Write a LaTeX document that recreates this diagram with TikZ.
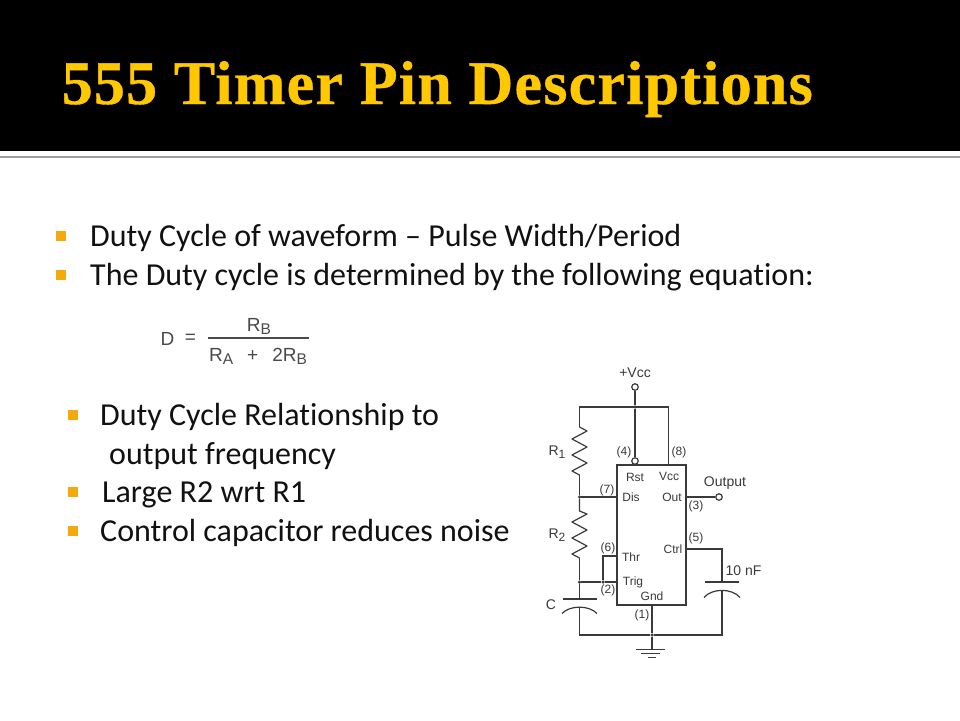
\documentclass[tikz,border=0pt]{standalone}
\usepackage{fontspec}
\setmainfont[RawFeature={-liga;-clig;-dlig}]{Carlito}
\newfontfamily\titlefont[LetterSpace=2,BoldFeatures={FakeBold=0.6}]{Liberation Serif}
\newfontfamily\circfont{Liberation Sans}
\usetikzlibrary{calc}
\definecolor{bulletc}{HTML}{F4A90C}
\definecolor{titlec}{HTML}{FFC800}
\definecolor{wirec}{HTML}{3A3A3A}
\definecolor{eqc}{HTML}{4A4A4A}
\definecolor{textc}{HTML}{111111}
\newcommand{\rsub}[1]{R\raisebox{-2.5pt}{\fontsize{12}{12}\selectfont #1}}
\newcommand{\rbig}[1]{R\raisebox{-3.5pt}{\fontsize{15.5}{15.5}\selectfont #1}}
\tikzset{
  bodytext/.style={anchor=base west,inner sep=0,text=textc,font=\fontsize{32}{32}\selectfont},
  bulletbox/.style={fill=bulletc,draw=none,minimum size=10pt,inner sep=0},
  wire/.style={draw=wirec,line width=1.2pt},
  lbl/.style={inner sep=0,text=wirec,font=\circfont\fontsize{12}{12}\selectfont},
  lblb/.style={inner sep=0,text=wirec,font=\circfont\fontsize{14}{14}\selectfont},
  term/.style={circle,draw=wirec,fill=white,line width=1.2pt,minimum size=6.5pt,inner sep=0},
  dotj/.style={circle,fill=wirec,minimum size=3.5pt,inner sep=0},
  eqtext/.style={inner sep=0,text=eqc,font=\circfont\fontsize{19}{19}\selectfont},
}
\begin{document}
\begin{tikzpicture}[x=1pt,y=-1pt]
\useasboundingbox (0,0) rectangle (960,720);
\fill[white] (0,0) rectangle (960,720);
\fill[black] (0,0) rectangle (960,151);
\fill[gray!75] (0,155.5) rectangle (960,157.5);
% title
\node[anchor=base west,inner sep=0,text=titlec,font=\titlefont\bfseries\fontsize{62}{62}\selectfont] (title) at (61.5,104) {555 Timer Pin Descriptions};
% bullets
\node[bulletbox] (b1) at (61,236) {};
\node[bulletbox] (b2) at (61,275) {};
\node[bulletbox] (b3) at (73,415) {};
\node[bulletbox] (b4) at (73,492) {};
\node[bulletbox] (b5) at (73,531) {};
\node[bodytext] (t1) at (90,246) {Duty Cycle of waveform – Pulse Width/Period};
\node[bodytext] (t2) at (90,285) {The Duty cycle is determined by the following equation:};
\node[bodytext] (t3) at (100,425) {Duty Cycle Relationship to};
\node[bodytext] (t4) at (109,464) {output frequency};
\node[bodytext] (t5) at (102,502) {Large R2 wrt R1};
\node[bodytext] (t6) at (100,541) {Control capacitor reduces noise};
% equation
\node[eqtext] (eqd) at (167.5,338.5) {D};
\node[eqtext] (eqe) at (190.5,338.5) {=};
\node[eqtext,anchor=base] (eqn) at (259,331) {\rbig{B}};
\node[eqtext,anchor=base] (eqm) at (258,361) {\rbig{A}\hspace{14pt}+\hspace{14pt}2\rbig{B}};
\coordinate (fa) at (208,338);
\coordinate (fb) at (309,338);
\draw[draw=eqc,line width=2pt] (fa) -- (fb);
% circuit
\coordinate (tl) at (579.5,407);
\coordinate (tm) at (635,407);
\coordinate (tr) at (668.5,407);
\node[term] (vcc) at (635,387) {};
\node[term] (rst) at (635,461) {};
\node[dotj] (jt) at (tm) {};
\node[lblb] (vcclab) at (635,373) {+Vcc};
\draw[wire] (vcc) -- (jt) -- (rst);
\draw[wire] (579.5,427) -- (tl) -- (tr) -- (668.5,465);
% box
\draw[wire] (617,465) rectangle (686,605);
% R1
\coordinate (r1a) at (579.5,427);
\coordinate (r1b) at (579.5,475);
\draw[wire,line join=round] (r1a) -- (587,431) -- (572,439) -- (587,447) -- (572,455) -- (587,463) -- (572,471) -- (r1b);
\node[dotj] (j7) at (579.5,497) {};
\draw[wire] (r1b) -- (j7) -- (617,497);
% R2
\coordinate (r2a) at (579.5,511);
\coordinate (r2b) at (579.5,558);
\draw[wire,line join=round] (j7) -- (r2a) -- (587,514) -- (572,522) -- (587,530) -- (572,538) -- (587,546) -- (572,554) -- (r2b);
\node[dotj] (j2) at (579.5,582) {};
\node[dotj] (j6) at (603,582) {};
\draw[wire] (r2b) -- (j2) -- (j6) -- (617,582);
\draw[wire] (j6) -- (603,556) -- (617,556);
% C
\coordinate (cp) at (579.5,599);
\draw[wire] (j2) -- (cp);
\draw[wire] (563,599) -- (597,599);
\draw[wire] (562,613.5) .. controls (570,605) and (589,605) .. (597,613.5);
\node[dotj] (jg) at (652,635) {};
\draw[wire] (579.5,606.5) -- (579.5,635) -- (jg) -- (722,635) -- (722,589.5);
\draw[wire] (652,605) -- (jg) -- (652,649.5);
% ground
\draw[wire] (636,649.5) -- (665,649.5);
\draw[wire] (641,653.5) -- (660,653.5);
\draw[wire] (648,657.5) -- (656,657.5);
% output
\node[term] (out) at (719,497) {};
\draw[wire] (686,497) -- (out);
% ctrl
\draw[wire] (686,549) -- (722,549) -- (722,582);
\draw[wire] (705,582) -- (739,582);
\draw[wire] (704,597.5) .. controls (712,588) and (732,588) .. (740,597.5);
% labels
\node[lblb] (lr1) at (557,452) {\rsub{1}};
\node[lblb] (lr2) at (557,535) {\rsub{2}};
\node[lblb] (lc) at (551,605) {C};
\node[lblb] (ln) at (743.5,571) {10 nF};
\node[lblb] (lo) at (725,483) {Output};
\node[lbl] (p4) at (624,452.5) {(4)};
\node[lbl] (p8) at (679,452.5) {(8)};
\node[lbl] (p7) at (607,490) {(7)};
\node[lbl] (p3) at (696,506) {(3)};
\node[lbl] (p5) at (696,538.5) {(5)};
\node[lbl] (p6) at (608,548) {(6)};
\node[lbl] (p2) at (608,590) {(2)};
\node[lbl] (p1) at (642,615) {(1)};
\node[lbl] (n1) at (635,477) {Rst};
\node[lbl] (n2) at (669,476) {Vcc};
\node[lbl] (n3) at (631,497) {Dis};
\node[lbl] (n4) at (672,497) {Out};
\node[lbl] (n5) at (673,549) {Ctrl};
\node[lbl] (n6) at (631,557) {Thr};
\node[lbl] (n7) at (633,582) {Trig};
\node[lbl] (n8) at (652,596) {Gnd};
\end{tikzpicture}
\end{document}
